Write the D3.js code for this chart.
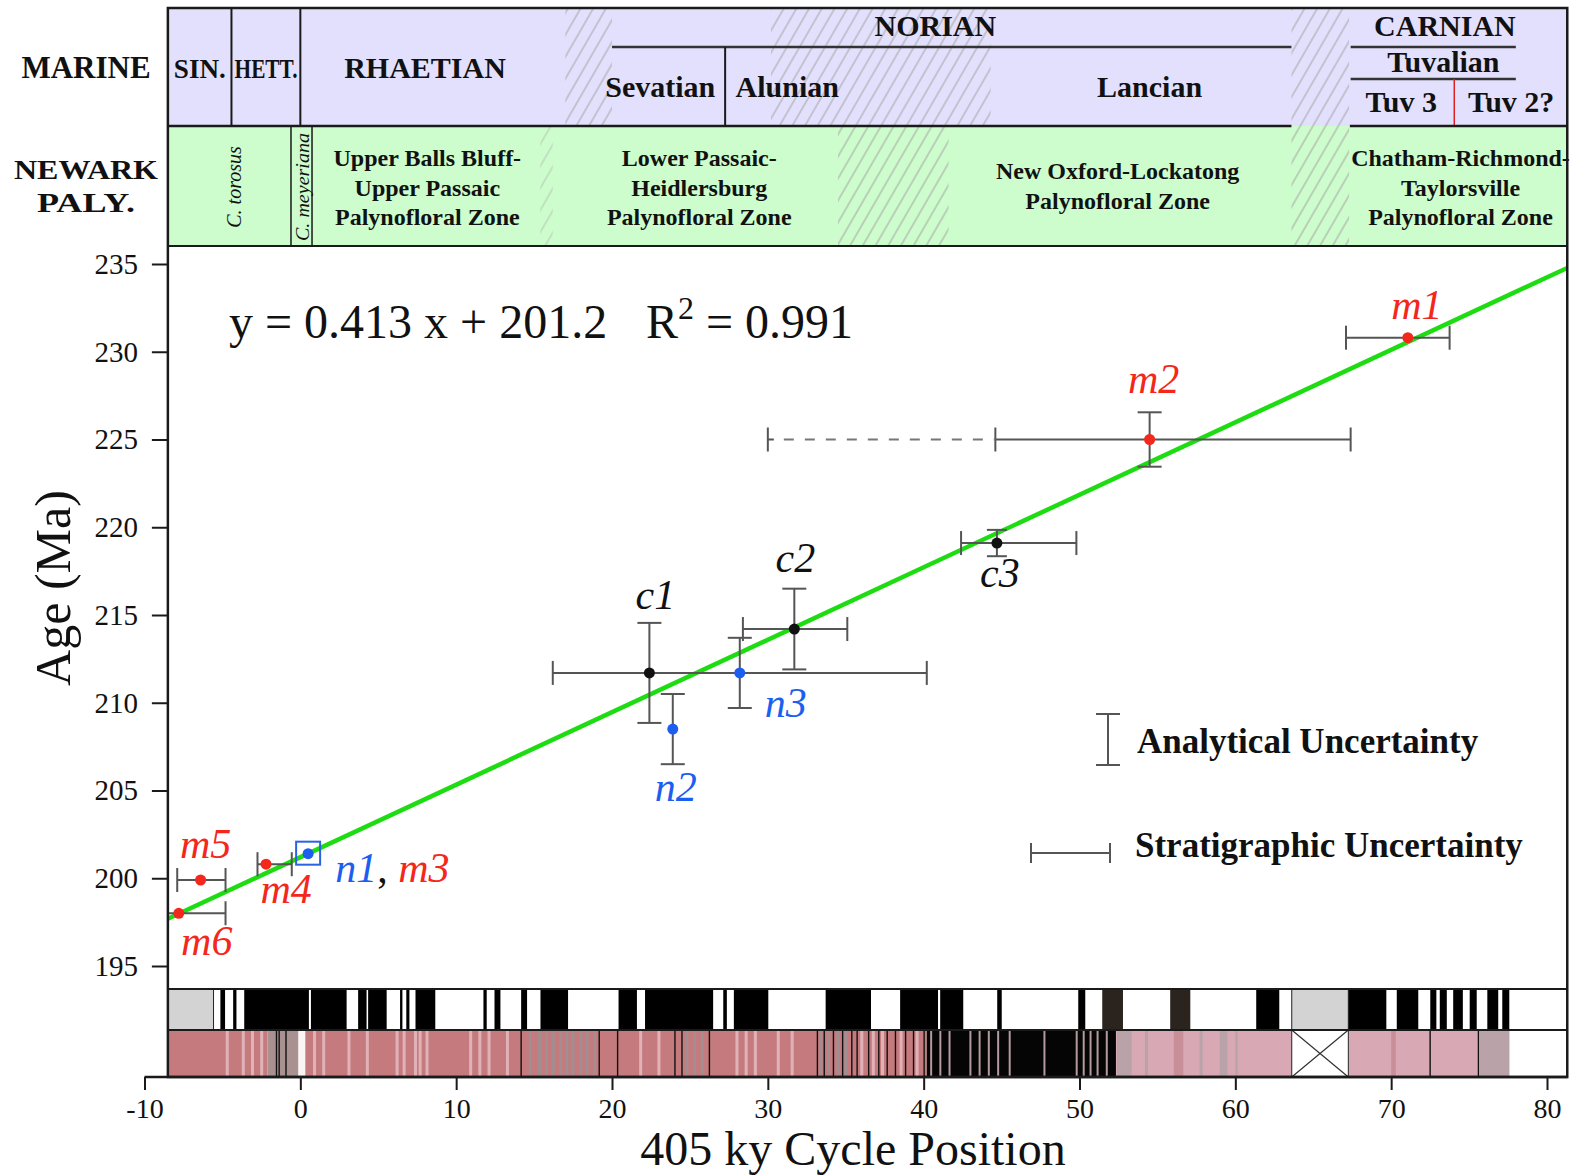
<!DOCTYPE html>
<html>
<head>
<meta charset="utf-8">
<script src="https://cdn.jsdelivr.net/npm/d3@7"></script>
<style>
  html, body { margin: 0; padding: 0; background: #fff; }
  svg { display: block; }
</style>
</head>
<body>
<svg id="chart" width="1575" height="1175"></svg>
<script>
// ---------------- data ----------------
const xTicks = [-10, 0, 10, 20, 30, 40, 50, 60, 70, 80];
const yTicks = [195, 200, 205, 210, 215, 220, 225, 230, 235];
const cycleRange = [-8.5, 81.3];          // cycle positions covered by the record

// dated horizons
const sampleIds   = ['m1', 'm2', 'c3', 'c2', 'c1', 'n3', 'n2', 'n1', 'm4', 'm5', 'm6'];
const sampleGroup = ['marine', 'marine', 'cont', 'cont', 'cont', 'newark', 'newark', 'newark', 'marine', 'marine', 'marine'];
const cyclePos    = [71.07, 54.5, 44.7, 31.7, 22.4, 28.2, 23.9, 0.5, -2.2, -6.4, -7.8];
const ageMa       = [230.8, 225.0, 219.1, 214.2, 211.7, 211.7, 208.5, 201.4, 200.8, 199.9, 198.0];
const ageErr      = [null, 1.55, 0.75, 2.3, 2.85, 2.0, 2.0, null, null, null, null];
const stratMin    = [67.1, 44.6, 42.4, 28.4, 16.2, null, null, null, -2.75, -7.9, -9.5];
const stratMax    = [73.75, 67.4, 49.8, 35.1, 40.2, null, null, null, -0.55, -4.8, -4.8];
const stratExtMin = [null, 30.0, null, null, null, null, null, null, null, null, null];

// regression through the horizons
const fitSlope = 0.413, fitIntercept = 201.2, fitR2 = 0.991;

// marine stage chart: [label, centre, row]
const stageLabels = [
  ['SIN.', -6.45, 'full'], ['HETT.', -2.2, 'full'], ['RHAETIAN', 8.0, 'full'],
  ['NORIAN', 40.75, 'top'], ['Sevatian', 23.1, 'sub'], ['Alunian', 31.25, 'sub'], ['Lancian', 54.5, 'sub'],
  ['CARNIAN', 73.45, 'top'], ['Tuvalian', 73.35, 'mid'], ['Tuv 3', 70.65, 'low'], ['Tuv 2?', 77.7, 'low']
];
const stageBounds = [-4.42, 0];           // full-height stage boundaries
const substageBound = 27.26;              // Sevatian / Alunian
const norianSpan = [20.0, 63.6];
const carnianSpan = [67.4, 78.0];
const tuvBound = 74.05;                   // Tuv 3 / Tuv 2?

// Newark palynofloral zones: [lines, centre]
const palyZones = [
  [['Upper Balls Bluff-', 'Upper Passaic', 'Palynofloral Zone'], 8.15],
  [['Lower Passaic-', 'Heidlersburg', 'Palynofloral Zone'], 25.6],
  [['New Oxford-Lockatong', 'Palynofloral Zone'], 52.45],
  [['Chatham-Richmond-', 'Taylorsville', 'Palynofloral Zone'], 74.45]
];
const torosusCentre = -4.35;
const meyerianaSpan = [-0.6, 0.75];

// boundary uncertainty (hatched): [from, to, rows]
const hatchZones = [
  [17.0, 20.0, 'marine'], [30.2, 44.3, 'marine'], [15.4, 16.2, 'paly'],
  [34.5, 41.6, 'paly'], [63.6, 67.3, 'both']
];

// magnetic polarity: normal (black) chrons, uncertain chrons, no-data
const polarityNormal = [
  [-5.13, -4.83], [-4.31, -4.10], [-3.6, 0.55], [0.68, 2.97], [3.71, 4.25], [4.35, 5.54],
  [6.40, 6.55], [6.80, 7.00], [7.39, 8.66], [11.75, 11.96], [12.46, 12.84], [14.17, 14.55],
  [15.41, 17.18], [20.42, 21.60], [22.12, 26.49], [27.14, 27.37], [27.82, 30.03], [33.71, 36.62],
  [38.49, 40.92], [41.06, 42.54], [44.72, 45.01], [49.92, 50.37], [61.34, 62.82], [67.25, 69.69],
  [70.36, 71.74], [72.51, 72.90], [73.12, 73.57], [73.98, 74.60], [75.04, 75.49], [76.17, 76.87],
  [77.13, 77.58]
];
const polarityUncertain = [[51.46, 52.79], [55.82, 57.11]];
const polarityNoData = [[-8.5, -5.57], [63.62, 67.25]];

// lithology / depth-rank column
const lithoUnits = [
  [-8.5, -2.1, 'red'], [-2.1, -0.12, 'grey'], [-0.12, 0.32, 'white'], [0.32, 40.2, 'red'],
  [40.2, 52.34, 'black'], [52.34, 63.62, 'pale'], [67.25, 77.58, 'pale']
];
const lithoLight = [-4.69, -3.66, -3.07, -2.48, 0.91, 1.5, 3.12, 4.3, 6.21, 6.66, 7.39, 7.69, 8.13,
  10.93, 11.52, 12.11, 13.29, 21.84, 23.01, 28.02, 28.61, 29.2, 30.67, 31.56, 36.03, 36.77, 37.36,
  38.55, 39.58];
const lithoGrey = [14.76, 15.35, 15.8, 16.23, 16.7, 17.12, 17.5, 18.0, 18.4, 18.88, 24.8, 25.3,
  25.8, 33.4, 33.9, 34.5, 35.0];
const lithoGaps = [40.48, 41.07, 41.66, 43.0, 43.59, 44.18, 44.78, 45.52, 47.75, 49.82, 50.27,
  50.71, 51.16, 51.75];
const lithoLines = [-1.53, -1.36, -0.92, 14.17, 19.18, 20.36, 24.04, 24.49, 26.25, 33.18, 33.62,
  34.21, 34.8, 35.39, 35.73, 36.47, 37.12, 37.66, 38.19, 38.84, 39.35, 40.03, 72.5, 75.6];
const paleBands = [[52.4, 53.35, 'grey'], [54.2, 54.4, 'grey'], [56.05, 56.66, 'rose'],
  [57.7, 57.9, 'grey'], [59.0, 59.5, 'grey'], [60.0, 60.15, 'grey'], [70.0, 70.3, 'rose'],
  [75.64, 77.58, 'grey']];
const lithoNoData = [63.62, 67.25];

// ---------------- layout ----------------
const svg = d3.select('#chart');
const x = d3.scaleLinear().domain([-10, 80]).range([144.5, 1547]);
const y = d3.scaleLinear().domain([195, 235]).range([966, 264]);

const L = x(cycleRange[0]), R = x(cycleRange[1]);
const TOP = 8, ROW1 = 126, ROW2 = 246, BAR1 = 989, BAR2 = 1030, BOT = 1077;
const serif = "'Liberation Serif', 'Times New Roman', serif";
const colours = { marine: '#f4271c', cont: '#111111', newark: '#1c5ff0' };
const errCol = '#555555';

const defs = svg.append('defs');
const hatch = defs.append('pattern').attr('id', 'hatch')
  .attr('patternUnits', 'userSpaceOnUse').attr('width', 11).attr('height', 20)
  .attr('patternTransform', 'rotate(30)');
hatch.append('line').attr('x1', 1).attr('y1', 0).attr('x2', 1).attr('y2', 20)
  .attr('stroke', '#a4a4a4').attr('stroke-width', 1);
defs.append('clipPath').attr('id', 'plotClip').append('rect')
  .attr('x', L).attr('y', ROW2).attr('width', R - L).attr('height', BAR1 - ROW2);

// ---------------- header ----------------
const head = svg.append('g');
head.append('rect').attr('x', L).attr('y', TOP).attr('width', R - L).attr('height', ROW1 - TOP).attr('fill', '#e2e0fc');
head.append('rect').attr('x', L).attr('y', ROW1).attr('width', R - L).attr('height', ROW2 - ROW1).attr('fill', '#cdfccd');

const rowSpan = { marine: [TOP, ROW1], paly: [ROW1, ROW2], both: [TOP, ROW2] };
head.selectAll('rect.hatch').data(hatchZones).join('rect').attr('class', 'hatch')
  .attr('x', d => x(d[0])).attr('width', d => x(d[1]) - x(d[0]))
  .attr('y', d => rowSpan[d[2]][0] + 1).attr('height', d => rowSpan[d[2]][1] - rowSpan[d[2]][0] - 2)
  .attr('fill', 'url(#hatch)').attr('opacity', d => d[0] === 15.4 ? 0.6 : 1);

const ink = '#1a1a1a';
// stage boundaries
head.selectAll('line.sb').data(stageBounds).join('line').attr('class', 'sb')
  .attr('x1', d => x(d)).attr('x2', d => x(d)).attr('y1', TOP).attr('y2', ROW1)
  .attr('stroke', ink).attr('stroke-width', 2);
head.append('line').attr('x1', x(norianSpan[0])).attr('x2', x(norianSpan[1])).attr('y1', 47).attr('y2', 47)
  .attr('stroke', '#333').attr('stroke-width', 2.5);
head.append('line').attr('x1', x(substageBound)).attr('x2', x(substageBound)).attr('y1', 47).attr('y2', ROW1)
  .attr('stroke', ink).attr('stroke-width', 2);
[47, 79].forEach(yy => head.append('line').attr('x1', x(carnianSpan[0])).attr('x2', x(carnianSpan[1]))
  .attr('y1', yy).attr('y2', yy).attr('stroke', '#333').attr('stroke-width', 2.5));
head.append('line').attr('x1', x(tuvBound)).attr('x2', x(tuvBound)).attr('y1', 79).attr('y2', ROW1)
  .attr('stroke', '#e02020').attr('stroke-width', 1.5);
// C. meyeriana box
head.append('rect').attr('x', x(meyerianaSpan[0])).attr('y', ROW1)
  .attr('width', x(meyerianaSpan[1]) - x(meyerianaSpan[0])).attr('height', ROW2 - ROW1)
  .attr('fill', 'none').attr('stroke', ink).attr('stroke-width', 1.5);

const rowY = { full: 68, top: 26, sub: 87, mid: 62, low: 102 };
head.selectAll('text.stage').data(stageLabels).join('text').attr('class', 'stage')
  .attr('x', d => x(d[1])).attr('y', d => rowY[d[2]] + 10)
  .attr('text-anchor', 'middle').attr('font-family', serif).attr('font-weight', 'bold')
  .attr('font-size', d => (d[0] === 'SIN.' || d[0] === 'HETT.') ? 27 : 30)
  .attr('textLength', d => d[0] === 'SIN.' ? 52 : d[0] === 'HETT.' ? 63 : null)
  .attr('lengthAdjust', 'spacingAndGlyphs')
  .attr('fill', '#111').text(d => d[0]);

palyZones.forEach(z => {
  const n = z[0].length;
  const ys = n === 3 ? [158, 188, 217] : [171, 201];
  z[0].forEach((t, i) => head.append('text').attr('x', x(z[1])).attr('y', ys[i] + 8)
    .attr('text-anchor', 'middle').attr('font-family', serif).attr('font-weight', 'bold')
    .attr('font-size', 24).attr('fill', '#111').text(t));
});
head.append('text').attr('transform', `translate(${x(torosusCentre) + 8},187) rotate(-90)`)
  .attr('text-anchor', 'middle').attr('font-family', serif).attr('font-style', 'italic')
  .attr('font-size', 20).attr('fill', '#111').text('C. torosus');
head.append('text').attr('transform', `translate(${(x(meyerianaSpan[0]) + x(meyerianaSpan[1])) / 2 + 7},187) rotate(-90)`)
  .attr('text-anchor', 'middle').attr('font-family', serif).attr('font-style', 'italic')
  .attr('font-size', 19).attr('textLength', 108).attr('lengthAdjust', 'spacingAndGlyphs')
  .attr('fill', '#111').text('C. meyeriana');

// row titles
const rowTitles = [['MARINE', 78, 31], ['NEWARK', 179, 28], ['PALY.', 212, 28]];
head.selectAll('text.rt').data(rowTitles).join('text').attr('class', 'rt')
  .attr('x', 86).attr('y', d => d[1]).attr('text-anchor', 'middle')
  .attr('font-family', serif).attr('font-weight', 'bold').attr('font-size', d => d[2])
  .attr('textLength', d => d[0] === 'NEWARK' ? 144 : d[0] === 'PALY.' ? 98 : null)
  .attr('lengthAdjust', 'spacingAndGlyphs')
  .attr('fill', '#111').text(d => d[0]);

// ---------------- plot ----------------
const plot = svg.append('g').attr('clip-path', 'url(#plotClip)');

// regression line
plot.append('line')
  .attr('x1', x(cycleRange[0])).attr('y1', y(fitSlope * cycleRange[0] + fitIntercept))
  .attr('x2', x(cycleRange[1])).attr('y2', y(fitSlope * cycleRange[1] + fitIntercept))
  .attr('stroke', '#1edc12').attr('stroke-width', 4.5);

const samples = sampleIds.map((id, i) => ({
  id, group: sampleGroup[i], cx: cyclePos[i], age: ageMa[i], err: ageErr[i],
  lo: stratMin[i], hi: stratMax[i], ext: stratExtMin[i]
}));

const CAP = 12;
const eb = plot.append('g').attr('stroke', errCol).attr('stroke-width', 2).attr('fill', 'none');
samples.filter(d => d.lo !== null).forEach(d => {
  const yy = y(d.age);
  eb.append('line').attr('x1', x(d.lo)).attr('x2', x(d.hi)).attr('y1', yy).attr('y2', yy);
  [d.lo, d.hi].forEach(v => eb.append('line').attr('x1', x(v)).attr('x2', x(v))
    .attr('y1', yy - CAP).attr('y2', yy + CAP));
  if (d.ext !== null) {
    eb.append('line').attr('x1', x(d.ext) + 16).attr('x2', x(d.lo)).attr('y1', yy).attr('y2', yy)
      .attr('stroke-dasharray', '10,11').attr('stroke', '#777');
    eb.append('line').attr('x1', x(d.ext)).attr('x2', x(d.ext)).attr('y1', yy - CAP).attr('y2', yy + CAP);
    eb.append('line').attr('x1', x(d.ext)).attr('x2', x(d.ext) + 6).attr('y1', yy).attr('y2', yy);
  }
});
samples.filter(d => d.err !== null).forEach(d => {
  const xx = x(d.cx), capW = d.err < 1 ? 10 : CAP;
  eb.append('line').attr('x1', xx).attr('x2', xx).attr('y1', y(d.age + d.err)).attr('y2', y(d.age - d.err));
  [d.age + d.err, d.age - d.err].forEach(v => eb.append('line')
    .attr('x1', xx - capW).attr('x2', xx + capW).attr('y1', y(v)).attr('y2', y(v)));
});

plot.selectAll('circle.pt').data(samples).join('circle').attr('class', 'pt')
  .attr('cx', d => x(d.cx)).attr('cy', d => y(d.age)).attr('r', 5.5)
  .attr('fill', d => colours[d.group]);

// Triassic-Jurassic boundary marker around n1
const n1 = samples.find(d => d.id === 'n1');
plot.append('rect').attr('x', x(n1.cx) - 12).attr('y', y(n1.age) - 12).attr('width', 24).attr('height', 23)
  .attr('fill', 'none').attr('stroke', '#2a62e0').attr('stroke-width', 2);

// sample labels
const labelOffset = {
  m1: [9, -19], m2: [4, -47], c3: [3, 44], c2: [1, -57], c1: [6, -64], n3: [46, 44],
  n2: [3, 72], m4: [20, 39], m5: [5, -22], m6: [28, 42]
};
const lab = svg.append('g').attr('font-family', serif).attr('font-style', 'italic').attr('font-size', 42);
samples.filter(d => labelOffset[d.id]).forEach(d => {
  lab.append('text').attr('x', x(d.cx) + labelOffset[d.id][0]).attr('y', y(d.age) + labelOffset[d.id][1])
    .attr('text-anchor', 'middle').attr('fill', colours[d.group]).text(d.id);
});
const jt = lab.append('text').attr('x', x(n1.cx) + 27).attr('y', y(n1.age) + 28);
jt.append('tspan').attr('fill', colours.newark).text('n1');
jt.append('tspan').attr('fill', '#111').attr('font-style', 'normal').text(', ');
jt.append('tspan').attr('fill', colours.marine).text('m3');

// regression equation
const eq = svg.append('text').attr('x', 229).attr('y', 338).attr('font-family', serif)
  .attr('font-size', 48).attr('fill', '#111');
eq.append('tspan').text(`y = ${fitSlope} x + ${fitIntercept}`);
eq.append('tspan').attr('x', 646).text('R');
eq.append('tspan').attr('dy', -19).attr('font-size', 32).text('2');
eq.append('tspan').attr('dy', 19).text(` = ${fitR2}`);

// legend
const lg = svg.append('g');
lg.append('g').attr('stroke', errCol).attr('stroke-width', 2).call(g => {
  g.append('line').attr('x1', 1108).attr('x2', 1108).attr('y1', 714).attr('y2', 765);
  g.append('line').attr('x1', 1096).attr('x2', 1120).attr('y1', 714).attr('y2', 714);
  g.append('line').attr('x1', 1096).attr('x2', 1120).attr('y1', 765).attr('y2', 765);
  g.append('line').attr('x1', 1031).attr('x2', 1110).attr('y1', 853).attr('y2', 853);
  g.append('line').attr('x1', 1031).attr('x2', 1031).attr('y1', 843).attr('y2', 863);
  g.append('line').attr('x1', 1110).attr('x2', 1110).attr('y1', 843).attr('y2', 863);
});
[['Analytical Uncertainty', 1137, 753], ['Stratigraphic Uncertainty', 1135, 857]].forEach(t =>
  lg.append('text').attr('x', t[1]).attr('y', t[2]).attr('font-family', serif).attr('font-weight', 'bold')
    .attr('font-size', 35).attr('fill', '#111').text(t[0]));

// ---------------- polarity and lithology columns ----------------
const bars = svg.append('g');
const span = (g, data, y0, y1, fill) => g.selectAll(null).data(data).join('rect')
  .attr('x', d => x(d[0])).attr('width', d => Math.max(1, x(d[1]) - x(d[0])))
  .attr('y', y0).attr('height', y1 - y0).attr('fill', fill);

bars.append('rect').attr('x', L).attr('y', BAR1).attr('width', R - L).attr('height', BAR2 - BAR1).attr('fill', '#fff');
span(bars, polarityNoData, BAR1, BAR2, '#d3d3d3');
span(bars, polarityNormal, BAR1, BAR2, '#000');
span(bars, polarityUncertain, BAR1, BAR2, '#2a231e');
bars.selectAll(null).data(polarityNoData).join('rect')
  .attr('x', d => x(d[0])).attr('width', d => x(d[1]) - x(d[0])).attr('y', BAR1).attr('height', BAR2 - BAR1)
  .attr('fill', 'none').attr('stroke', '#222').attr('stroke-width', 1);

const lithoFill = { red: '#c57b7e', grey: '#a99192', white: '#fbf4f4', black: '#050505', pale: '#d8a9b5' };
bars.append('rect').attr('x', L).attr('y', BAR2).attr('width', R - L).attr('height', BOT - BAR2).attr('fill', '#fff');
bars.selectAll(null).data(lithoUnits).join('rect')
  .attr('x', d => x(d[0])).attr('width', d => x(d[1]) - x(d[0])).attr('y', BAR2).attr('height', BOT - BAR2)
  .attr('fill', d => lithoFill[d[2]]);
const stripe = (data, w, fill) => bars.selectAll(null).data(data).join('rect')
  .attr('x', d => x(d) - w / 2).attr('width', w).attr('y', BAR2).attr('height', BOT - BAR2).attr('fill', fill);
stripe(lithoLight, 3, '#e0b2b8');
stripe(lithoGrey, 3, '#a08e90');
stripe(lithoGaps, 2, '#b49a9e');
stripe(lithoLines, 1.4, '#111');
bars.selectAll(null).data(paleBands).join('rect')
  .attr('x', d => x(d[0])).attr('width', d => x(d[1]) - x(d[0])).attr('y', BAR2).attr('height', BOT - BAR2)
  .attr('fill', d => d[2] === 'grey' ? '#b9a3a9' : '#c98f98');
// no-data box with cross
bars.append('rect').attr('x', x(lithoNoData[0])).attr('y', BAR2)
  .attr('width', x(lithoNoData[1]) - x(lithoNoData[0])).attr('height', BOT - BAR2)
  .attr('fill', '#fff').attr('stroke', '#222').attr('stroke-width', 1);
bars.append('path').attr('d',
  `M${x(lithoNoData[0])},${BAR2}L${x(lithoNoData[1])},${BOT}M${x(lithoNoData[1])},${BAR2}L${x(lithoNoData[0])},${BOT}`)
  .attr('stroke', '#333').attr('stroke-width', 1.2);

// ---------------- frame and axes ----------------
const fr = svg.append('g').attr('stroke', ink).attr('fill', 'none');
fr.append('rect').attr('x', L).attr('y', TOP).attr('width', R - L).attr('height', BOT - TOP).attr('stroke-width', 2.5);
fr.append('line').attr('x1', L).attr('x2', x(norianSpan[1])).attr('y1', ROW1).attr('y2', ROW1).attr('stroke-width', 2.5);
fr.append('line').attr('x1', x(67.35)).attr('x2', R).attr('y1', ROW1).attr('y2', ROW1).attr('stroke-width', 2.5);
[ROW2, BAR1, BAR2].forEach(yy => fr.append('line').attr('x1', L).attr('x2', R)
  .attr('y1', yy).attr('y2', yy).attr('stroke-width', 2.2));
fr.append('line').attr('x1', x(-10)).attr('x2', R).attr('y1', BOT).attr('y2', BOT).attr('stroke-width', 2.5);

const xAxis = d3.axisBottom(x).tickValues(xTicks).tickSize(13).tickSizeOuter(0).tickPadding(8)
  .tickFormat(d => String(d));
svg.append('g').attr('transform', `translate(0,${BOT})`).call(xAxis).call(g => {
  g.select('.domain').remove();
  g.selectAll('line').attr('stroke', ink).attr('stroke-width', 2);
  g.selectAll('text').attr('font-family', serif).attr('font-size', 28).attr('fill', '#111');
});
const yAxis = d3.axisLeft(y).tickValues(yTicks).tickSize(16).tickSizeOuter(0).tickPadding(14);
svg.append('g').attr('transform', `translate(${L},0)`).call(yAxis).call(g => {
  g.select('.domain').remove();
  g.selectAll('line').attr('stroke', ink).attr('stroke-width', 2);
  g.selectAll('text').attr('font-family', serif).attr('font-size', 29).attr('fill', '#111');
});

svg.append('text').attr('transform', 'translate(70,588) rotate(-90)').attr('text-anchor', 'middle')
  .attr('font-family', serif).attr('font-size', 50).attr('fill', '#111').text('Age (Ma)');
svg.append('text').attr('x', 853).attr('y', 1165).attr('text-anchor', 'middle')
  .attr('font-family', serif).attr('font-size', 48).attr('fill', '#111').text('405 ky Cycle Position');
</script>
</body>
</html>
